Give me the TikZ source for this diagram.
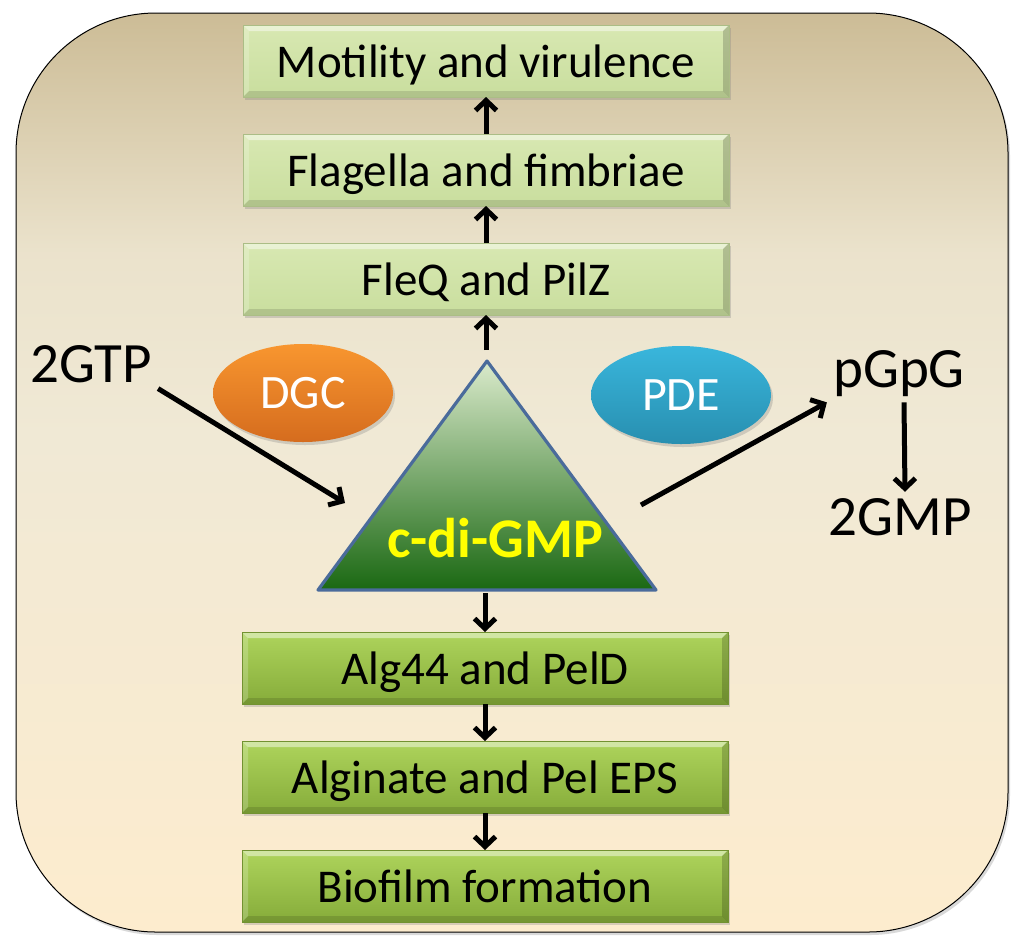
\documentclass[tikz,border=0pt]{standalone}
\usepackage{fontspec}
\setmainfont{Carlito}
\usetikzlibrary{positioning, shapes.geometric, shadows, arrows.meta}

\definecolor{bgtop}{HTML}{CCBC96}
\definecolor{bgmid}{HTML}{F0E9D5}
\definecolor{bgbot}{HTML}{FDECCE}
\definecolor{lighttop}{HTML}{D8E8B2}
\definecolor{lightbot}{HTML}{C9DE9E}
\definecolor{darktop}{HTML}{AED45C}
\definecolor{darkbot}{HTML}{86AC3A}
\definecolor{dgctop}{HTML}{F8962F}
\definecolor{dgcbot}{HTML}{D56C1E}
\definecolor{pdetop}{HTML}{39B6DC}
\definecolor{pdebot}{HTML}{288FB0}
\definecolor{tritop}{HTML}{DAEACB}
\definecolor{trimid}{HTML}{8FB466}
\definecolor{tribot}{HTML}{1A6812}
\definecolor{triedge}{HTML}{4A6B9B}
\definecolor{cdgyellow}{HTML}{FFFF00}

\pgfdeclareverticalshading{bgshade}{100bp}{color(0bp)=(bgbot); color(25bp)=(bgbot);
    color(52bp)=(bgmid); color(62bp)=(bgmid!85!bgtop); color(75bp)=(bgtop); color(100bp)=(bgtop)}

\tikzset{
    softshadow/.style={drop shadow={shadow xshift=2pt, shadow yshift=-3pt, opacity=0.3}},
    bevel/.style={path picture={
        \fill [white, opacity=0.45] (path picture bounding box.north west)
            -- (path picture bounding box.north east)
            -- ([xshift=-6pt, yshift=-6pt]path picture bounding box.north east)
            -- ([xshift=6pt, yshift=-6pt]path picture bounding box.north west) -- cycle;
        \fill [white, opacity=0.2] (path picture bounding box.north west)
            -- ([xshift=6pt, yshift=-6pt]path picture bounding box.north west)
            -- ([xshift=6pt, yshift=6pt]path picture bounding box.south west)
            -- (path picture bounding box.south west) -- cycle;
        \fill [black, opacity=0.12] (path picture bounding box.south west)
            -- (path picture bounding box.south east)
            -- ([xshift=-6pt, yshift=6pt]path picture bounding box.south east)
            -- ([xshift=6pt, yshift=6pt]path picture bounding box.south west) -- cycle;
        \fill [black, opacity=0.18] (path picture bounding box.north east)
            -- ([xshift=-6pt, yshift=-6pt]path picture bounding box.north east)
            -- ([xshift=-6pt, yshift=6pt]path picture bounding box.south east)
            -- (path picture bounding box.south east) -- cycle;
    }},
    box/.style={rectangle, minimum width=486pt, minimum height=72pt, inner sep=0pt,
        outer sep=0pt, line width=0.6pt, text height=37pt, text depth=4pt,
        font=\fontsize{47}{50}\selectfont, softshadow, bevel},
    lightbox/.style={box, top color=lighttop, bottom color=lightbot, draw=lightbot!85!black},
    darkbox/.style={box, top color=darktop, bottom color=darkbot, draw=darkbot!85!black},
    enzyme/.style={ellipse, minimum width=180pt, minimum height=98pt, inner sep=0pt,
        text=white, font=\fontsize{48}{52}\selectfont, softshadow},
    metab/.style={inner sep=6pt, font=\fontsize{57}{60}\selectfont},
    arr/.style={-{Straight Barb[length=10pt,width=21pt]}, line width=5pt},
}

\begin{document}
\begin{tikzpicture}[x=1pt, y=-1pt, node distance=37pt]
    \useasboundingbox (0,0) rectangle (1024,951);
    \draw [black, line width=1pt, rounded corners=140pt, shading=bgshade, softshadow]
        (16,13) rectangle (1008,932);

    \node [lightbox] at (486,279) (fleq) {FleQ and PilZ};
    \node [lightbox, above=of fleq] (flag) {Flagella and fimbriae};
    \node [lightbox, above=of flag] (mot) {Motility and virulence};

    \node [darkbox] at (485,668) (alg44) {Alg44 and PelD};
    \node [darkbox, below=of alg44] (alg) {Alginate and Pel EPS};
    \node [darkbox, below=of alg] (bio) {Biofilm formation};

    \node [enzyme, top color=dgctop, bottom color=dgcbot] at (303,393) (dgc) {DGC};
    \node [enzyme, top color=pdetop, bottom color=pdebot] at (681,395) (pde) {PDE};

    \coordinate (apex) at (487,361);
    \coordinate (bl) at (318,590);
    \coordinate (br) at (656,590);
    \shade [top color=tritop, middle color=trimid, bottom color=tribot] (apex) -- (bl) -- (br) -- cycle;
    \draw [triedge, line width=3.2pt, line join=round] (apex) -- (bl) -- (br) -- cycle;
    \node [text=cdgyellow, font=\fontsize{56}{60}\selectfont\bfseries] at (495,538) (cdg) {c-di-GMP};

    \node [metab, anchor=base] at (91,382) (gtp) {2GTP};
    \node [metab, anchor=base] at (899,387) (pgpg) {pGpG};
    \node [metab, anchor=base] at (900,535) (gmp) {2GMP};

    \coordinate (cdgtop) at (486,350);
    \coordinate (cdgbot) at (485,593);
    \coordinate (cdgin) at (345,503);
    \coordinate (cdgout) at (641,505);

    \draw [arr] (cdgtop) to (fleq);
    \draw [arr] (fleq) to (flag);
    \draw [arr] (flag) to (mot);
    \draw [arr] (cdgbot) to (alg44);
    \draw [arr] (alg44) to (alg);
    \draw [arr] (alg) to (bio);
    \draw [arr] (gtp.south east) to (cdgin);
    \draw [arr] (cdgout) to (pgpg.south west);
    \draw [arr] ([xshift=5pt]pgpg.south) to ([xshift=5pt]gmp.north);
\end{tikzpicture}
\end{document}
